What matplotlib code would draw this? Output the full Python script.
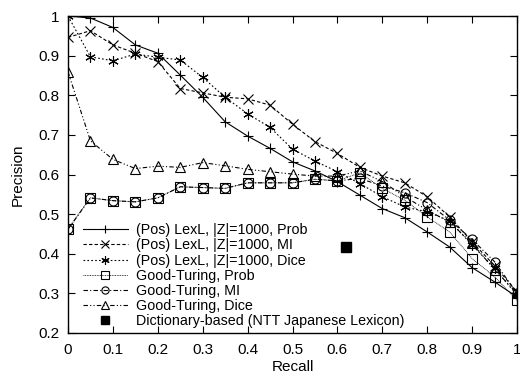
import matplotlib
matplotlib.use("Agg")
import matplotlib.pyplot as plt

recall = [0.0, 0.05, 0.1, 0.15, 0.2, 0.25, 0.3, 0.35, 0.4, 0.45, 0.5,
          0.55, 0.6, 0.65, 0.7, 0.75, 0.8, 0.85, 0.9, 0.95, 1.0]

lexl_prob = [1.0, 0.995, 0.971, 0.927, 0.906, 0.851, 0.795, 0.733, 0.697, 0.666, 0.632,
             0.609, 0.582, 0.548, 0.514, 0.491, 0.455, 0.417, 0.365, 0.329, 0.291]
lexl_mi = [0.946, 0.963, 0.927, 0.906, 0.885, 0.817, 0.806, 0.795, 0.791, 0.775, 0.727,
           0.683, 0.653, 0.618, 0.596, 0.579, 0.544, 0.493, 0.43, 0.37, 0.304]
lexl_dice = [1.0, 0.897, 0.887, 0.904, 0.896, 0.889, 0.845, 0.795, 0.753, 0.719, 0.664,
             0.634, 0.607, 0.577, 0.544, 0.518, 0.506, 0.483, 0.422, 0.363, 0.296]
gt_prob = [0.462, 0.541, 0.534, 0.531, 0.541, 0.569, 0.567, 0.565, 0.579, 0.579, 0.579,
           0.588, 0.584, 0.604, 0.565, 0.535, 0.493, 0.455, 0.388, 0.342, 0.283]
gt_mi = [0.462, 0.541, 0.534, 0.531, 0.541, 0.569, 0.567, 0.565, 0.579, 0.579, 0.579,
         0.588, 0.584, 0.590, 0.571, 0.554, 0.529, 0.485, 0.436, 0.380, 0.300]
gt_dice = [0.859, 0.685, 0.638, 0.615, 0.621, 0.618, 0.630, 0.622, 0.613, 0.607, 0.601,
           0.596, 0.596, 0.609, 0.582, 0.544, 0.510, 0.480, 0.426, 0.360, 0.300]
dict_recall = [0.62]
dict_precision = [0.417]

labels = ["(Pos) LexL, |Z|=1000, Prob",
          "(Pos) LexL, |Z|=1000, MI",
          "(Pos) LexL, |Z|=1000, Dice",
          "Good-Turing, Prob",
          "Good-Turing, MI",
          "Good-Turing, Dice",
          "Dictionary-based (NTT Japanese Lexicon)"]
x_ticks = [0, 0.1, 0.2, 0.3, 0.4, 0.5, 0.6, 0.7, 0.8, 0.9, 1]
x_ticklabels = ["0", "0.1", "0.2", "0.3", "0.4", "0.5", "0.6", "0.7", "0.8", "0.9", "1"]
y_ticks = [0.2, 0.3, 0.4, 0.5, 0.6, 0.7, 0.8, 0.9, 1]
y_ticklabels = ["0.2", "0.3", "0.4", "0.5", "0.6", "0.7", "0.8", "0.9", "1"]

plt.rcParams['font.family'] = ['Liberation Sans', 'DejaVu Sans']
FS = 11
plt.rcParams['font.size'] = FS

fig = plt.figure(figsize=(5.2, 3.77), dpi=100)
ax = fig.add_axes([68/520, 44/377, 449/520, 317/377])

lw = 0.8
ms = 6.5
ax.plot(recall, lexl_prob, color='black', lw=lw, linestyle='-', marker='+', ms=ms+1, mew=lw, label=labels[0])
ax.plot(recall, lexl_mi, color='black', lw=lw, linestyle=(0, (3, 2)), marker='x', ms=ms, mew=lw, label=labels[1])
ax.plot(recall, lexl_dice, color='black', lw=lw, linestyle=(0, (1.5, 2)), marker=(6, 2, 0), ms=ms+1, mew=lw, label=labels[2])
ax.plot(recall, gt_prob, color='black', lw=0.6, linestyle=(0, (1, 1)), marker='s', ms=ms, mew=lw, mfc='none', label=labels[3])
ax.plot(recall, gt_mi, color='black', lw=lw, linestyle=(0, (4, 2, 1, 2)), marker='o', ms=ms, mew=lw, mfc='none', label=labels[4])
ax.plot(recall, gt_dice, color='black', lw=lw, linestyle=(0, (4, 2, 1, 2, 1, 2)), marker='^', ms=ms, mew=lw, mfc='none', label=labels[5])
ax.plot(dict_recall, dict_precision, color='black', linestyle='none', marker='s', ms=ms, label=labels[6])

ax.set_xlim(0, 1)
ax.set_ylim(0.2, 1)
ax.set_xticks(x_ticks)
ax.set_xticklabels(x_ticklabels)
ax.set_yticks(y_ticks)
ax.set_yticklabels(y_ticklabels)
ax.tick_params(direction='in', top=True, right=True, length=5, width=0.8, labelsize=FS, pad=6)
ax.tick_params(axis='x', pad=7.5)
for s in ax.spines.values():
    s.set_linewidth(1.0)
ax.set_xlabel("Recall", fontsize=FS, labelpad=2)
ax.set_ylabel("Precision", fontsize=FS, labelpad=10)

LFS = 10.3
leg = ax.legend(loc='lower left', bbox_to_anchor=(0.014, -0.012), frameon=False,
                handlelength=45/(LFS*100/72), handletextpad=8/(LFS*100/72), labelspacing=0.08,
                fontsize=LFS, borderaxespad=0.2, markerscale=0.8)

fig.savefig("out.png", dpi=100)
